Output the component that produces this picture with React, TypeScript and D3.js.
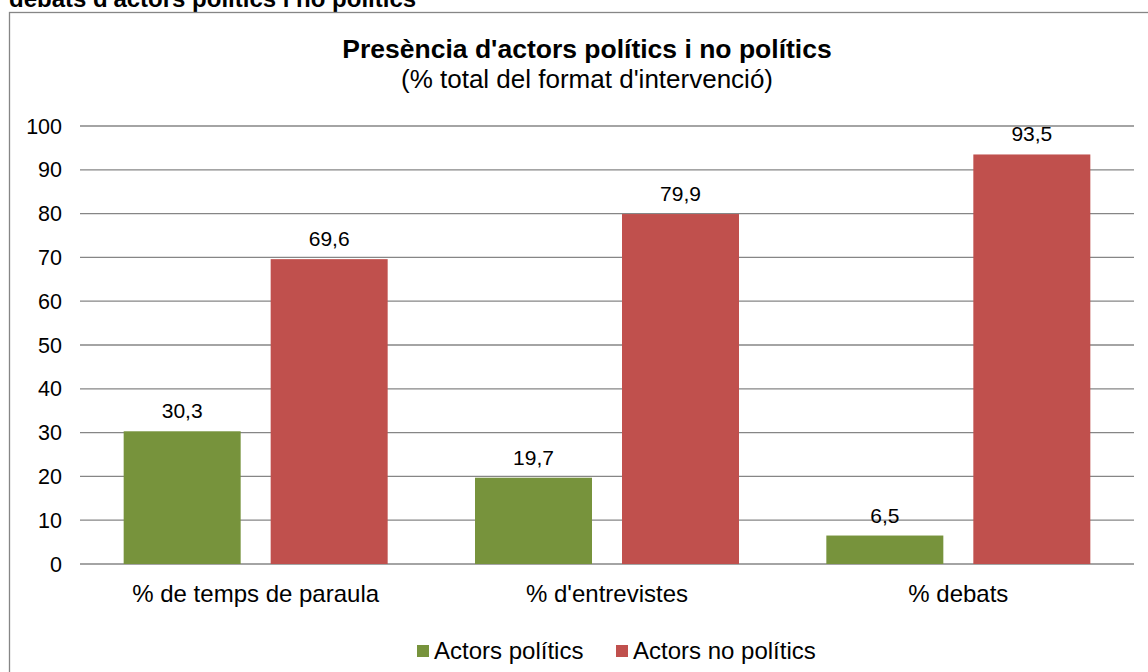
import React from "react";
import * as d3 from "d3";

const categories = ["% de temps de paraula", "% d'entrevistes", "% debats"];
const seriesNames = ["Actors polítics", "Actors no polítics"];
const politicalValues = [30.3, 19.7, 6.5];
const nonPoliticalValues = [69.6, 79.9, 93.5];
const yTicks = [0, 10, 20, 30, 40, 50, 60, 70, 80, 90, 100];
const colors = ["#77933C", "#C0504D"];

const W = 1148;
const H = 672;
const font = "Liberation Sans, Arial, sans-serif";

export default function App() {
  const left = 80, right = 1134, top = 126, bottom = 564;
  const y = d3.scaleLinear().domain([0, 100]).range([bottom, top]);
  const x0 = d3.scaleBand().domain(categories).range([left, right]).paddingInner(0).paddingOuter(0);
  const bw = x0.bandwidth();
  const barW = 117;
  const gap = 30;
  const series = [politicalValues, nonPoliticalValues];
  const fmt = (v: number) => v.toFixed(1).replace(".", ",");

  return (
    <svg width={W} height={H} style={{ position: "absolute", left: 0, top: 0, background: "#fff" }} fontFamily={font}>
      <text x={9} y={7} fontSize={24} fontWeight="bold" fill="#000">debats d'actors polítics i no polítics</text>
      <rect x={9.5} y={12.5} width={1160} height={700} fill="none" stroke="#868686" strokeWidth={1.3} />
      <text x={587} y={58} textAnchor="middle" fontSize={26.5} fontWeight="bold">Presència d'actors polítics i no polítics</text>
      <text x={587} y={88} textAnchor="middle" fontSize={26}>(% total del format d'intervenció)</text>
      {yTicks.map((t) => (
        <g key={t}>
          <line x1={left} x2={right} y1={y(t)} y2={y(t)} stroke="#868686" strokeWidth={1.3} />
          <text x={62} y={y(t) + 7.5} textAnchor="end" fontSize={21.5}>{t}</text>
        </g>
      ))}
      {categories.map((c, i) => {
        const cx = (x0(c) as number) + bw / 2;
        return (
          <g key={c}>
            {series.map((s, j) => {
              const bx = j === 0 ? cx - gap / 2 - barW : cx + gap / 2;
              return (
                <g key={j}>
                  <rect x={bx} y={y(s[i])} width={barW} height={bottom - y(s[i])} fill={colors[j]} />
                  <text x={bx + barW / 2} y={y(s[i]) - 13} textAnchor="middle" fontSize={21}>{fmt(s[i])}</text>
                </g>
              );
            })}
            <text x={cx} y={602} textAnchor="middle" fontSize={24}>{c}</text>
          </g>
        );
      })}
      <rect x={417} y={645} width={12} height={12} fill={colors[0]} />
      <text x={434} y={659} fontSize={24}>{seriesNames[0]}</text>
      <rect x={616} y={645} width={12} height={12} fill={colors[1]} />
      <text x={633} y={659} fontSize={24}>{seriesNames[1]}</text>
    </svg>
  );
}
